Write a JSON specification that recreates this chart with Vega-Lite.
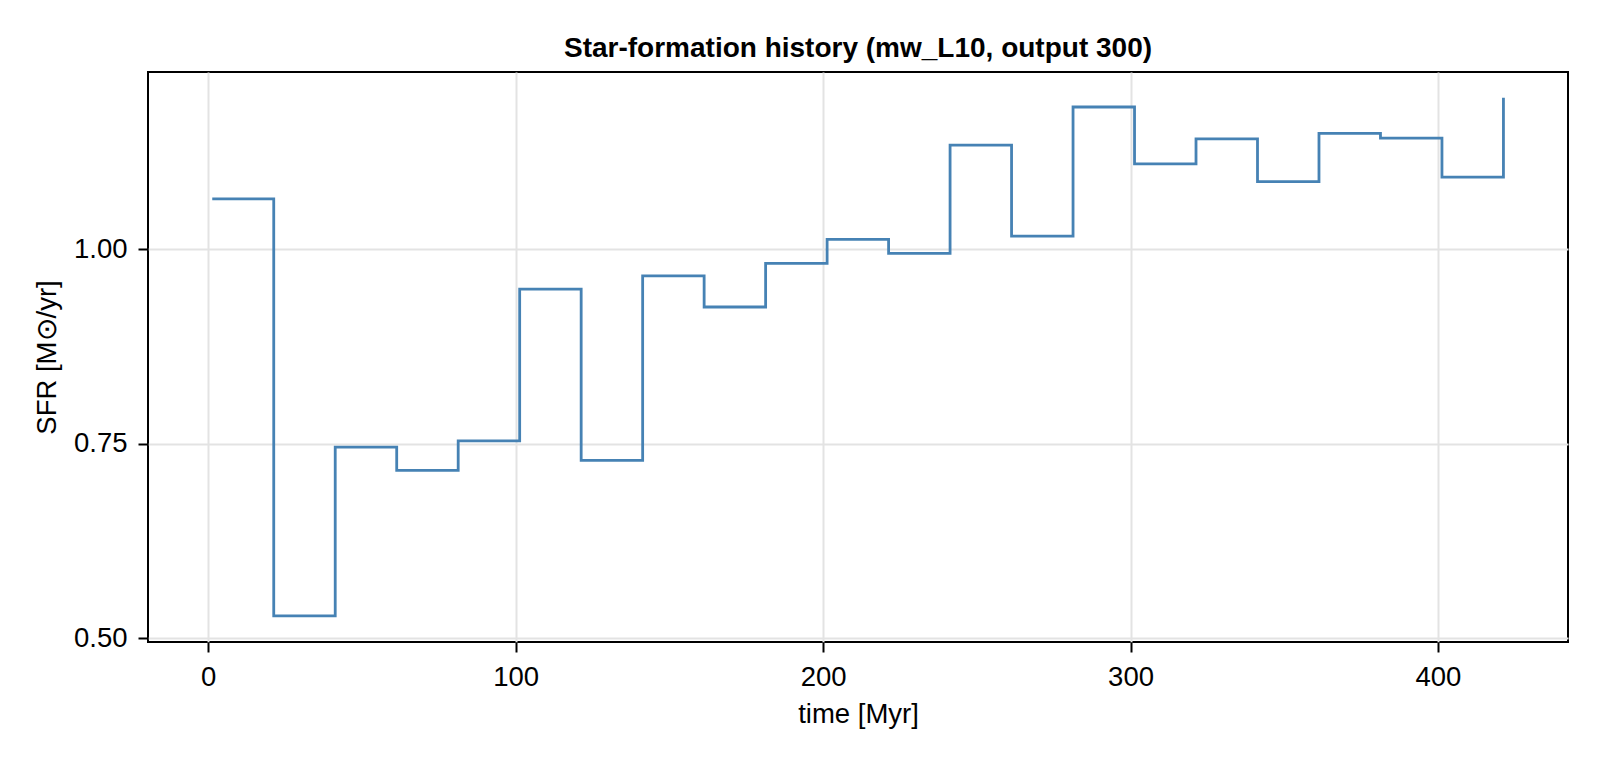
{
  "$schema": "https://vega.github.io/schema/vega-lite/v6.json",
  "width": 1420,
  "height": 570,
  "autosize": {"type": "none"},
  "padding": {"left": 148, "top": 72, "right": 32, "bottom": 118},
  "background": "white",
  "title": {
    "text": "Star-formation history (mw_L10, output 300)",
    "font": "Liberation Sans",
    "fontSize": 28,
    "fontWeight": "bold",
    "color": "black",
    "anchor": "middle",
    "baseline": "alphabetic",
    "offset": -13
  },
  "data": {
    "values": [
      {"time": 1.3, "sfr": 1.065},
      {"time": 21.3, "sfr": 0.529},
      {"time": 41.3, "sfr": 0.746},
      {"time": 61.3, "sfr": 0.716},
      {"time": 81.3, "sfr": 0.754},
      {"time": 101.3, "sfr": 0.949},
      {"time": 121.3, "sfr": 0.729},
      {"time": 141.3, "sfr": 0.966},
      {"time": 161.3, "sfr": 0.926},
      {"time": 181.3, "sfr": 0.982},
      {"time": 201.3, "sfr": 1.013},
      {"time": 221.3, "sfr": 0.995},
      {"time": 241.3, "sfr": 1.134},
      {"time": 261.3, "sfr": 1.017},
      {"time": 281.3, "sfr": 1.183},
      {"time": 301.3, "sfr": 1.110},
      {"time": 321.3, "sfr": 1.142},
      {"time": 341.3, "sfr": 1.087},
      {"time": 361.3, "sfr": 1.149},
      {"time": 381.3, "sfr": 1.143},
      {"time": 401.3, "sfr": 1.093},
      {"time": 421.3, "sfr": 1.195}
    ]
  },
  "mark": {
    "type": "line",
    "interpolate": "step-after",
    "color": "#4682b4",
    "strokeWidth": 2.8
  },
  "encoding": {
    "x": {
      "field": "time",
      "type": "quantitative",
      "scale": {"domain": [-19.6, 442.3], "nice": false, "zero": false},
      "axis": {"title": "time [Myr]", "values": [0, 100, 200, 300, 400], "format": "d"}
    },
    "y": {
      "field": "sfr",
      "type": "quantitative",
      "scale": {"domain": [0.4955, 1.228], "nice": false, "zero": false},
      "axis": {"title": "SFR [M⊙/yr]", "values": [0.5, 0.75, 1.0], "format": ".2f", "labelPadding": 11, "titlePadding": 12}
    }
  },
  "config": {
    "view": {"stroke": "black", "strokeWidth": 2},
    "axis": {
      "domain": false,
      "labelFont": "Liberation Sans",
      "labelFontSize": 27.5,
      "labelColor": "black",
      "labelPadding": 11,
      "tickColor": "black",
      "tickWidth": 2,
      "tickSize": 10,
      "titleFont": "Liberation Sans",
      "titleFontSize": 27.5,
      "titleFontWeight": "normal",
      "titleColor": "black",
      "titlePadding": 10,
      "gridColor": "#e3e3e3",
      "gridWidth": 2
    }
  }
}
